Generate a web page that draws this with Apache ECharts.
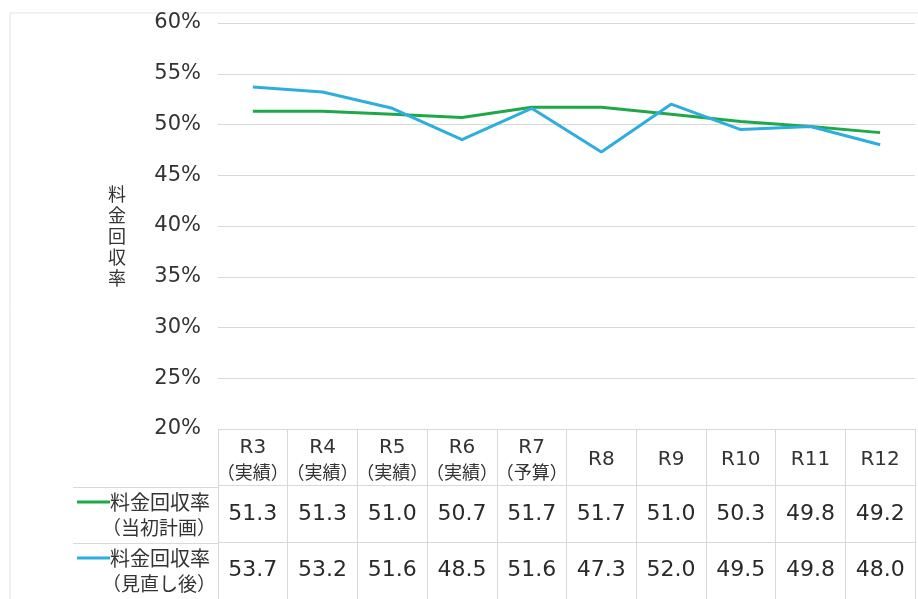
<!DOCTYPE html>
<html>
<head>
<meta charset="utf-8">
<script src="https://cdn.jsdelivr.net/npm/echarts@6/dist/echarts.min.js"></script>
<style>
    html, body { margin: 0; padding: 0; background: #fff; }
    #chart { width: 918px; height: 599px; }
</style>
</head>
<body>
<div id="chart"></div>
<script>
// カテゴリ（年度）
const years = ['R3', 'R4', 'R5', 'R6', 'R7', 'R8', 'R9', 'R10', 'R11', 'R12']
const yearNotes = ['（実績）', '（実績）', '（実績）', '（実績）', '（予算）', '', '', '', '', '']
// 料金回収率（%）
const planRate = [51.3, 51.3, 51.0, 50.7, 51.7, 51.7, 51.0, 50.3, 49.8, 49.2]
const revisedRate = [53.7, 53.2, 51.6, 48.5, 51.6, 47.3, 52.0, 49.5, 49.8, 48.0]
const seriesNames = ['料金回収率（当初計画）', '料金回収率（見直し後）']
const rowLabels = [['料金回収率', '（当初計画）'], ['料金回収率', '（見直し後）']]
const yTicks = { min: 20, max: 60, step: 5 }

const GREEN = '#1fa84a'
const BLUE = '#2eaede'
const GRID_LINE = '#d9d9d9'
const TEXT = '#333333'
const LATIN = "'DejaVu Sans', 'Noto Sans CJK JP', sans-serif"
const CJK = "'Noto Sans CJK JP', sans-serif"

const chart = echarts.init(document.getElementById('chart'))

// 表のセル（値）
const tableCells = []
planRate.forEach((v, i) => tableCells.push([i, 1, v.toFixed(1)]))
revisedRate.forEach((v, i) => tableCells.push([i, 2, v.toFixed(1)]))

const option = {
    animation: false,
    backgroundColor: '#fff',
    graphic: [
        {
            type: 'rect',
            shape: { x: 10, y: 13, width: 940, height: 620 },
            style: { fill: 'none', stroke: '#e3e3e3', lineWidth: 1 },
            silent: true
        }
    ],
    grid: [
        { left: 218, right: 3, top: 23, height: 406 },
        { left: 218, right: 3, top: 429, height: 174 },
        { left: 73, width: 145, top: 487, height: 116 }
    ],
    xAxis: [
        {
            gridIndex: 0,
            type: 'category',
            data: years,
            boundaryGap: true,
            axisLine: { show: false },
            axisTick: { show: false },
            axisLabel: { show: false }
        },
        {
            gridIndex: 1,
            type: 'category',
            data: years,
            position: 'top',
            boundaryGap: true,
            axisLine: { show: false },
            axisTick: { show: false },
            splitLine: { show: true, interval: 0, lineStyle: { color: GRID_LINE, width: 1 } },
            axisLabel: {
                interval: 0,
                inside: true,
                margin: 31,
                verticalAlign: 'middle',
                align: 'center',
                color: TEXT,
                formatter: (v, i) => yearNotes[i] ? '{y|' + v + '}\n{n|' + yearNotes[i] + '}' : '{y|' + v + '}',
                rich: {
                    y: { fontFamily: LATIN, fontSize: 20, lineHeight: 25, color: TEXT, align: 'center' },
                    n: { fontFamily: CJK, fontSize: 18, lineHeight: 25, color: TEXT, align: 'center' }
                }
            }
        },
        {
            gridIndex: 2,
            type: 'value',
            show: false
        }
    ],
    yAxis: [
        {
            gridIndex: 0,
            type: 'value',
            min: yTicks.min,
            max: yTicks.max,
            interval: yTicks.step,
            name: '\n料\n金\n回\n収\n率',
            nameLocation: 'middle',
            nameRotate: 0,
            nameGap: 92,
            nameTextStyle: { fontFamily: CJK, fontSize: 18, lineHeight: 21, color: TEXT },
            axisLine: { show: false },
            axisTick: { show: false },
            axisLabel: {
                formatter: '{value}%',
                margin: 17,
                fontFamily: LATIN,
                fontSize: 21,
                color: TEXT
            },
            splitLine: { lineStyle: { color: GRID_LINE, width: 1 } }
        },
        {
            gridIndex: 1,
            type: 'category',
            data: ['head', 'plan', 'revised'],
            inverse: true,
            boundaryGap: true,
            axisLine: { show: false },
            axisTick: { show: false },
            axisLabel: { show: false },
            splitLine: { show: true, interval: 0, lineStyle: { color: GRID_LINE, width: 1 } }
        },
        {
            gridIndex: 2,
            type: 'category',
            data: [0, 1],
            inverse: true,
            boundaryGap: true,
            axisLine: { show: false },
            axisTick: { show: false },
            splitLine: { show: true, interval: 0, lineStyle: { color: GRID_LINE, width: 1 } },
            axisLabel: {
                interval: 0,
                inside: true,
                margin: 4,
                align: 'left',
                verticalAlign: 'middle',
                formatter: (v, i) => '{g' + i + '|}{t|' + rowLabels[i][0] + '}\n{s|}{u|' + rowLabels[i][1] + '}',
                rich: {
                    g0: { width: 33, height: 3, backgroundColor: GREEN },
                    g1: { width: 33, height: 3, backgroundColor: BLUE },
                    s: { width: 25, height: 3 },
                    t: { fontFamily: CJK, fontSize: 20, lineHeight: 26, color: TEXT },
                    u: { fontFamily: CJK, fontSize: 19, lineHeight: 26, color: TEXT }
                }
            }
        }
    ],
    series: [
        {
            name: seriesNames[0],
            type: 'line',
            xAxisIndex: 0,
            yAxisIndex: 0,
            data: planRate,
            symbol: 'none',
            lineStyle: { color: GREEN, width: 3 },
            itemStyle: { color: GREEN }
        },
        {
            name: seriesNames[1],
            type: 'line',
            xAxisIndex: 0,
            yAxisIndex: 0,
            data: revisedRate,
            symbol: 'none',
            lineStyle: { color: BLUE, width: 3 },
            itemStyle: { color: BLUE }
        },
        {
            name: 'table',
            type: 'scatter',
            xAxisIndex: 1,
            yAxisIndex: 1,
            data: tableCells,
            symbolSize: 0,
            silent: true,
            itemStyle: { opacity: 1 },
            label: {
                show: true,
                position: 'inside',
                formatter: p => p.data[2],
                fontFamily: LATIN,
                fontSize: 22,
                color: '#2a2a2a',
                textBorderWidth: 0
            }
        }
    ]
}

chart.setOption(option)
</script>
</body>
</html>
